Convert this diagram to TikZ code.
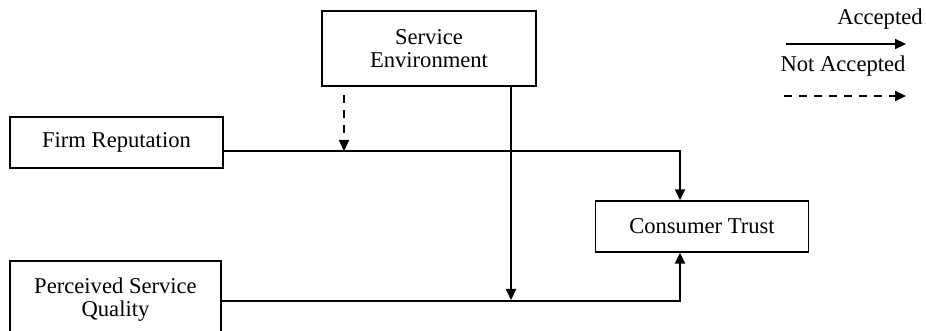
\documentclass[tikz,border=0pt]{standalone}
\usepackage{fontspec}
\setmainfont{Liberation Serif}
\usetikzlibrary{arrows.meta}
\tikzset{
  construct/.style={draw,line width=0.7pt,align=center,inner sep=0pt,
    minimum width=106.5pt,minimum height=25.5pt},
  accepted/.style={line width=1.1pt,-{Triangle[width=5pt,length=5.5pt]}},
  rejected/.style={accepted,dash pattern=on 4pt off 3.5pt}
}
\begin{document}
\begin{tikzpicture}[x=0.5pt,y=-0.5pt,font=\fontsize{11.3}{11.5}\selectfont,line join=miter]
	\useasboundingbox (0,0) rectangle (926,331);
	\clip (0,0) rectangle (926,331);
	% constructs
	\node[construct,minimum width=107pt,minimum height=37.5pt] (env) at (429,48.5) {Service\\Environment};
	\node[construct] (firm) at (116.5,142.5) {Firm Reputation};
	\node[construct,minimum width=105.5pt,minimum height=39pt] (psq) at (115.5,300) {Perceived Service\\Quality};
	\node[construct] (trust) at (702,226.5) {Consumer Trust};
	% paths
	\coordinate (fj) at (680,151);
	\coordinate (pj) at (680,301);
	\coordinate (ej) at (511,300);
	\coordinate (dj) at (344,95);
	\draw[accepted,line width=0.75pt] (firm.east |- fj) -- (fj) -- (trust.north -| fj);
	\draw[accepted] (psq.east |- pj) -- (pj) -- (trust.south -| pj);
	\draw[accepted] (env.south -| ej) -- (ej);
	\draw[rejected] (dj) -- (dj |- fj);
	% legend
	\node[anchor=east,inner sep=0pt] (acc) at (923,19) {Accepted};
	\node[inner sep=0pt] (nacc) at (843,66) {Not Accepted};
	\coordinate (a1) at (786,44);
	\coordinate (a2) at (906,44);
	\coordinate (n1) at (784,96);
	\coordinate (n2) at (906,96);
	\draw[accepted] (a1) -- (a2);
	\draw[rejected] (n1) -- (n2);
\end{tikzpicture}
\end{document}
